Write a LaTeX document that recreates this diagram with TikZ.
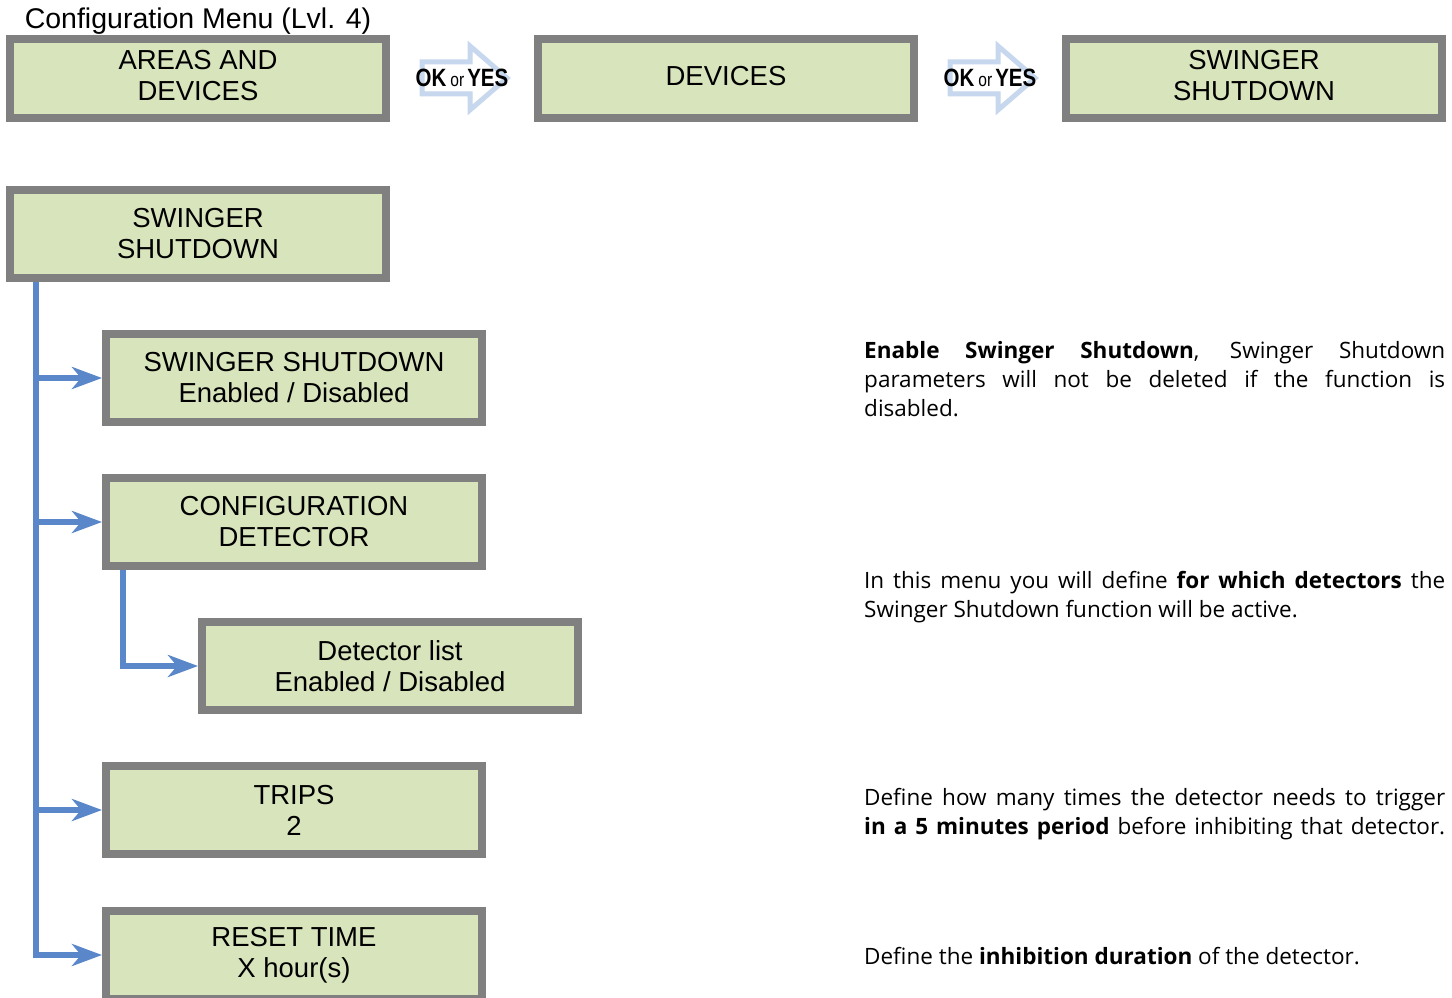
\documentclass[tikz,border=0pt]{standalone}
\usepackage{fontspec}
\usetikzlibrary{arrows.meta,positioning}
\newfontfamily\boxfamily{Liberation Sans}
\newfontfamily\okfamily[FakeStretch=0.82]{Liberation Sans}
\newfontfamily\descfamily{Open Sans}
\definecolor{boxgreen}{HTML}{D8E4BC}
\definecolor{boxgray}{HTML}{808080}
\definecolor{linkblue}{HTML}{5A87C9}
\definecolor{okblue}{HTML}{C6D7EE}
\tikzset{
  menubox/.style={draw=boxgray, fill=boxgreen, line width=8pt, minimum width=376pt,
    minimum height=88pt, inner sep=0pt, align=center,
    font=\boxfamily\fontsize{27.5}{31}\selectfont},
  topbox/.style={menubox, minimum height=79pt, text depth=6pt},
  link/.style={draw=linkblue, line width=6pt,
    -{Stealth[length=30pt,width=22pt,inset=9pt]}},
  okarrow/.style={draw=okblue, fill=white, line width=5pt},
  desc/.style={anchor=base west, inner sep=0pt, text width=581pt, align=justify,
    font=\descfamily\fontsize{22.5}{29}\selectfont}
}
\begin{document}
\begin{tikzpicture}[x=1pt,y=-1pt]
  \useasboundingbox (0,0) rectangle (1452,998);
  % top row
  \node[font=\boxfamily\fontsize{28.5}{32}\selectfont] (title) at (198,21) {Configuration Menu (Lvl. 4)};
  \node[topbox] (areas) at (198,78.5) {AREAS AND\\DEVICES};
  \node[topbox] (devices) at (726,78.5) {DEVICES};
  \node[topbox] (swtop) at (1254,78.5) {SWINGER\\SHUTDOWN};
  \foreach \dx/\nm in {0/oka,528/okb}{
    \draw[okarrow] (422+\dx,62) -- (470+\dx,62) -- (470+\dx,46) -- (507+\dx,78)
      -- (470+\dx,110) -- (470+\dx,94) -- (422+\dx,94) -- cycle;
    \node[inner sep=0pt, font=\okfamily\bfseries\fontsize{25}{25}\selectfont] (\nm) at (462+\dx,78)
      {OK\hspace{4pt}{\mdseries\fontsize{19}{19}\selectfont or}\hspace{3pt}YES};
  }
  % menu tree
  \node[menubox] (swing) at (198,234) {SWINGER\\SHUTDOWN};
  \node[menubox] (enable) at (294,378) {SWINGER SHUTDOWN\\Enabled / Disabled};
  \node[menubox] (config) at (294,522) {CONFIGURATION\\DETECTOR};
  \node[menubox] (detlist) at (390,666) {Detector list\\Enabled / Disabled};
  \node[menubox] (trips) at (294,810) {TRIPS\\2};
  \node[menubox] (reset) at (294,955) {RESET TIME\\X hour(s)};
  \foreach \child in {enable,config,trips,reset}
    \draw[link] ([xshift=30pt]swing.south west) |- (\child.west);
  \draw[link] ([xshift=21pt]config.south west) |- (detlist.west);
  % descriptions
  \node[desc] (denable) at (864,358) {\textbf{Enable Swinger Shutdown}, Swinger Shutdown\linebreak
    parameters will not be deleted if the function is\linebreak disabled.};
  \node[desc] (dconfig) at (864,588) {In this menu you will define \textbf{for which detectors} the\linebreak
    Swinger Shutdown function will be active.};
  \node[desc] (dtrips) at (864,805) {Define how many times the detector needs to trigger\linebreak
    \textbf{in a 5 minutes period} before inhibiting that detector.\linebreak};
  \node[desc] (dreset) at (864,964) {Define the \textbf{inhibition duration} of the detector.};
\end{tikzpicture}
\end{document}
